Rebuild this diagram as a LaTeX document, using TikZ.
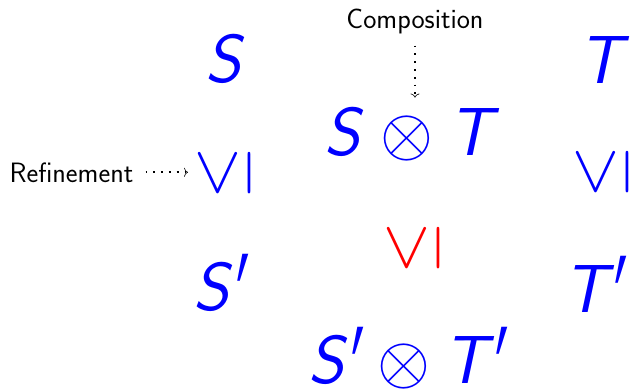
\documentclass[tikz,border=0pt]{standalone}
\usepackage{graphicx}
\usepackage{fontspec}
\newfontfamily\primefont{DejaVu Sans}
\usetikzlibrary{arrows.meta}
% math symbols at 10pt, enlarged to the size of the 68pt letters
\newcommand{\bigsym}[1]{\scalebox{6.8}{\fontsize{10}{12}\selectfont$#1$}}
% thin, tall sans prime after a letter
\newcommand{\prm}{\hspace{8pt}\makebox[0pt][l]{\raisebox{-52pt}{\scalebox{0.55}[1.35]{\upshape\primefont\fontsize{110}{120}\selectfont ′}}}\hspace{10pt}}
\begin{document}
\begin{tikzpicture}[x=1pt,y=-1pt,
  spec/.style={font=\fontsize{68}{80}\selectfont\sffamily\slshape, text=blue, inner sep=0pt, anchor=base},
  refrel/.style={inner sep=0pt, rotate=90},
  lbl/.style={font=\fontsize{28}{32}\selectfont\sffamily, inner sep=0pt, anchor=base},
  hint/.style={->, line width=1.8pt, dash pattern=on 1.8pt off 6pt, >={To[length=4pt,width=9pt,line width=0.6pt]}}
]
\useasboundingbox (0,0) rectangle (634,391);

% specifications and their refinements
\node[spec] (s)  at (223,82)  {S};
\node[spec] (t)  at (600,83)  {T};
\node[spec] (sp) at (215,310) {S\prm};
\node[spec] (tp) at (589,312) {T\prm};
\node[refrel, text=blue] (ls) at (224,173) {\bigsym{\leq}};
\node[refrel, text=blue] (rs) at (602,172) {\bigsym{\leq}};

% compositions
\node[spec] (comp)  at (408,155) {S\hspace{21pt}\bigsym{\otimes}\hspace{15pt}T};
\node[spec] (compp) at (401.6,383) {S\prm\hspace{16pt}\bigsym{\otimes}\hspace{13pt}T\prm};
\node[refrel, text=red] (ms) at (413,248) {\bigsym{\leq}};

% annotations
\node[lbl] (complbl) at (415,28)  {Composition};
\node[lbl] (reflbl)  at (71.5,182) {Refinement};
\draw[hint, shorten <=12pt, shorten >=9pt] (complbl.south) -- (complbl.south |- comp.north);
\draw[hint, shorten <=12pt, shorten >=36pt] (reflbl.east) -- (reflbl.east -| ls.center);
\end{tikzpicture}
\end{document}
